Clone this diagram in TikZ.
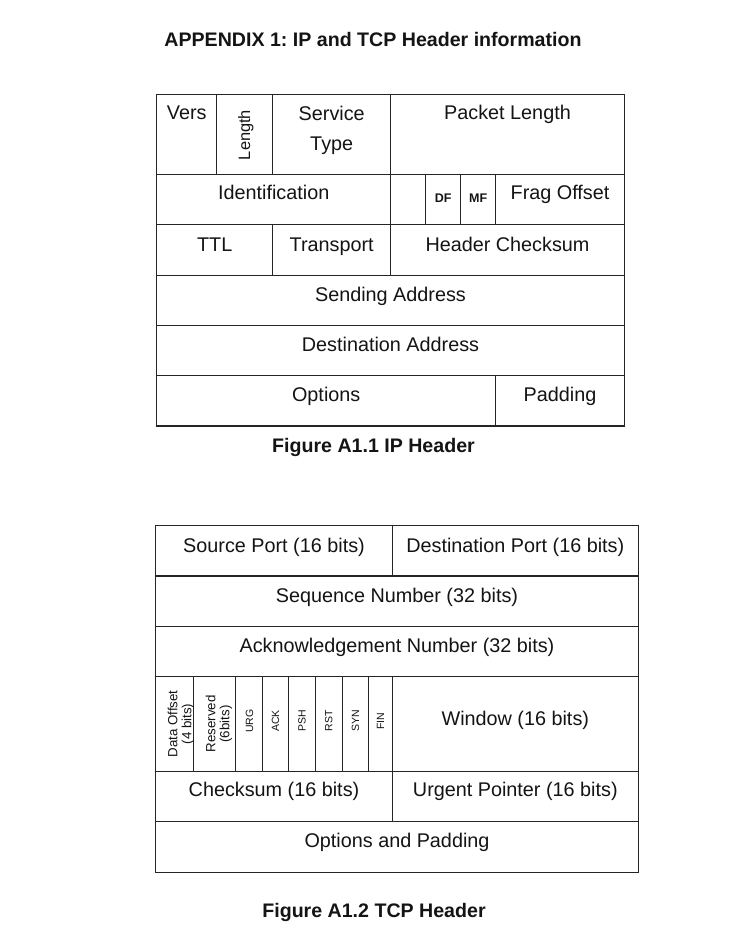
\documentclass[tikz,border=0pt]{standalone}
\usepackage{fontspec}
\setmainfont{Liberation Sans}
\frenchspacing
\definecolor{ink}{HTML}{141414}
\definecolor{rulecol}{HTML}{252525}
\tikzset{
  cell/.style={draw=rulecol, line width=1.25pt},
  lbl/.style={inner sep=0pt, text=ink, font=\fontsize{19.8}{30}\selectfont},
  capt/.style={inner sep=0pt, text=ink, font=\bfseries\fontsize{19.6}{24}\selectfont},
  flagtxt/.style={inner sep=0pt, text=ink, rotate=90, font=\fontsize{10.5}{12}\selectfont},
  rottxt/.style={inner sep=0pt, text=ink, rotate=90, align=center, font=\fontsize{13.3}{14}\selectfont},
  smallbold/.style={inner sep=0pt, text=ink, font=\bfseries\fontsize{12.5}{14}\selectfont},
}
\begin{document}
\begin{tikzpicture}[x=1pt,y=-1pt]
\path[use as bounding box, fill=white] (0,0) rectangle (730,925);

% Title
\node[capt, anchor=base] (title) at (373,46.7) {APPENDIX 1: IP and TCP Header information};

% ---------------- IP header grid ----------------
\draw[cell] (156.7,94.3) rectangle (624.3,426);
\foreach \yy in {174.3,224.5,275.3,325.7,375.3}
  \draw[cell] (156.7,\yy) -- (624.3,\yy);
\foreach \xx in {216.7,272.7,390.7}
  \draw[cell] (\xx,94.3) -- (\xx,174.3);
\foreach \xx in {390.7,425.7,460.7,495.7}
  \draw[cell] (\xx,174.3) -- (\xx,224.5);
\foreach \xx in {272.7,390.7}
  \draw[cell] (\xx,224.5) -- (\xx,275.3);
\draw[cell] (495.7,375.3) -- (495.7,426);

% IP labels
\node[lbl, anchor=base] (vers) at (186.7,120) {Vers};
\node[inner sep=0pt, text=ink, rotate=90, font=\fontsize{16.4}{18}\selectfont] (ihl) at (246,135) {Length};
\node[lbl, align=center] (stype) at (331.7,130.5) {Service\\Type};
\node[lbl, anchor=base] (plen) at (507.5,120) {Packet Length};
\node[lbl, anchor=base] (ident) at (273.7,200) {Identification};
\node[smallbold, anchor=base] (df) at (443.2,202.3) {DF};
\node[smallbold, anchor=base] (mf) at (478.2,202.3) {MF};
\node[lbl, anchor=base] (frag) at (560,200) {Frag Offset};
\node[lbl, anchor=base] (ttl) at (214.7,251.7) {TTL};
\node[lbl, anchor=base] (trans) at (331.7,251.7) {Transport};
\node[lbl, anchor=base] (hcs) at (507.5,251.7) {Header Checksum};
\node[lbl, anchor=base] (saddr) at (390.5,301.7) {Sending Address};
\node[lbl, anchor=base] (daddr) at (390.5,351.7) {Destination Address};
\node[lbl, anchor=base] (opts) at (326.2,401.7) {Options};
\node[lbl, anchor=base] (pad) at (560,401.7) {Padding};
\node[capt, anchor=base] (cap1) at (373.5,452) {Figure A1.1 IP Header};

% ---------------- TCP header grid ----------------
\draw[cell] (155.7,525.3) rectangle (638.3,872.3);
\foreach \yy in {576,626.7,676.7,771.7,821.7}
  \draw[cell] (155.7,\yy) -- (638.3,\yy);
\draw[cell] (392.3,525.3) -- (392.3,576);
\foreach \xx in {193.3,235.7,262.3,288.7,315.3,342.3,368.7,392.3}
  \draw[cell] (\xx,676.7) -- (\xx,771.7);
\draw[cell] (392.3,771.7) -- (392.3,821.7);

% TCP labels
\node[lbl, anchor=base] (sport) at (274,552.7) {Source Port (16 bits)};
\node[lbl, anchor=base] (dport) at (515.3,552.7) {Destination Port (16 bits)};
\node[lbl, anchor=base] (seq) at (397,602.7) {Sequence Number (32 bits)};
\node[lbl, anchor=base] (ack) at (397,652.7) {Acknowledgement Number (32 bits)};
\node[rottxt] (doff) at (181,724) {Data Offset\\(4 bits)};
\node[rottxt] (resv) at (219,724) {Reserved\\(6bits)};
\node[flagtxt] (urg) at (249.5,721) {URG};
\node[flagtxt] (fack) at (275.5,721) {ACK};
\node[flagtxt] (psh) at (302,721) {PSH};
\node[flagtxt] (rst) at (328.8,721) {RST};
\node[flagtxt] (syn) at (355.5,721) {SYN};
\node[flagtxt] (fin) at (380.5,721) {FIN};
\node[lbl, anchor=base] (win) at (515.3,725) {Window (16 bits)};
\node[lbl, anchor=base] (csum) at (274,796.7) {Checksum (16 bits)};
\node[lbl, anchor=base] (urgp) at (515.3,796.7) {Urgent Pointer (16 bits)};
\node[lbl, anchor=base] (optpad) at (397,847.3) {Options and Padding};
\node[capt, anchor=base] (cap2) at (374,917.7) {Figure A1.2 TCP Header};
\end{tikzpicture}
\end{document}
